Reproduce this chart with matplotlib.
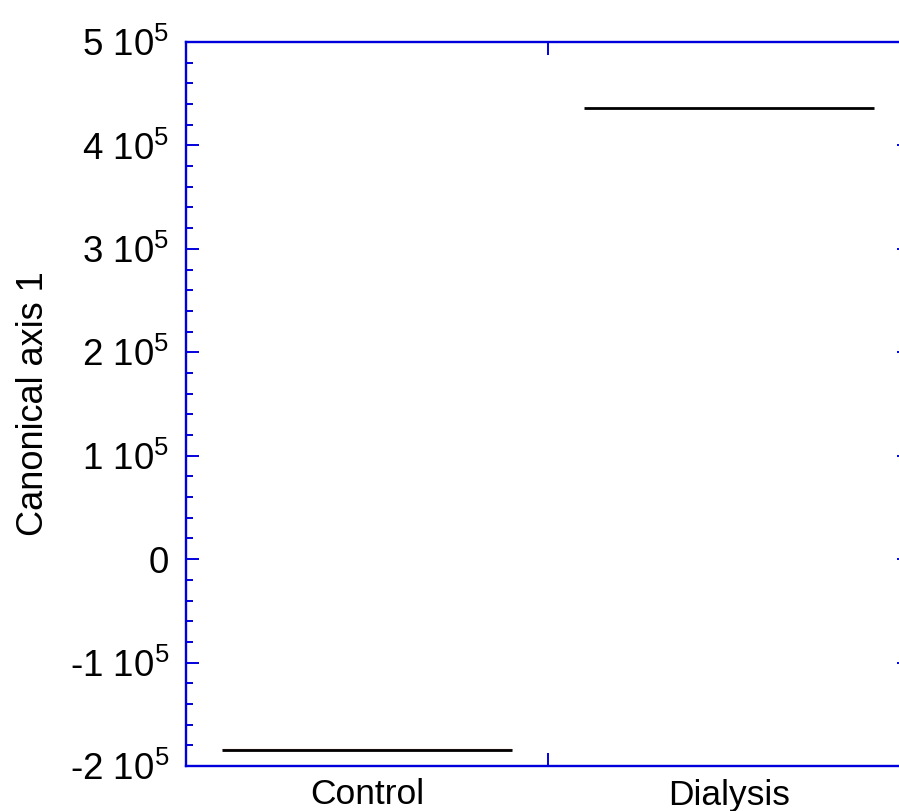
import matplotlib
matplotlib.use("Agg")
import matplotlib.pyplot as plt
from matplotlib.ticker import MultipleLocator, FixedLocator

plt.rcParams["font.family"] = ["Liberation Sans", "DejaVu Sans"]
plt.rcParams["mathtext.fontset"] = "custom"
plt.rcParams["mathtext.rm"] = "Liberation Sans"
plt.rcParams["mathtext.it"] = "Liberation Sans"

groups = ["Control", "Dialysis"]
group_means = [-1.831e5, 4.359e5]
group_medians = [-1.843e5, 4.359e5]
ytick_values = [-2e5, -1e5, 0, 1e5, 2e5, 3e5, 4e5, 5e5]
ytick_labels = [r"-2 10$^{5}$", r"-1 10$^{5}$", "0", r"1 10$^{5}$",
                r"2 10$^{5}$", r"3 10$^{5}$", r"4 10$^{5}$", r"5 10$^{5}$"]

axis_blue = "#0000dd"
W, H = 899, 811
fig = plt.figure(figsize=(W / 100, H / 100), dpi=100)
left, right, top, bottom = 186, 910, 42, 766
ax = fig.add_axes([left / W, 1 - bottom / H, (right - left) / W, (bottom - top) / H])

half = 0.4
for i, (m, md) in enumerate(zip(group_means, group_medians)):
    if i == 0:
        ax.hlines(m, i - half, i + half, color="#eba0a0", lw=0.9, zorder=2)
    ax.hlines(md, i - half, i + half, color="black", lw=2.0, zorder=3)

ax.set_xlim(-0.5, 1.5)
ax.set_ylim(-2e5, 5e5)

for s in ax.spines.values():
    s.set_color(axis_blue)
    s.set_linewidth(1.7)

ax.set_yticks(ytick_values)
ax.set_yticklabels(ytick_labels)
ax.yaxis.set_minor_locator(MultipleLocator(2e4))
ax.tick_params(axis="y", which="major", direction="in", length=9.4, width=1.4,
               color=axis_blue, labelsize=26.5, pad=12, right=True, left=True)
ax.tick_params(axis="y", which="minor", direction="in", length=5, width=1.4,
               color=axis_blue, left=True, right=False)

ax.set_xticks(range(len(groups)))
ax.set_xticklabels(groups)
ax.xaxis.set_minor_locator(FixedLocator([0.5]))
ax.tick_params(axis="x", which="major", length=0, labelsize=25.5, pad=9)
ax.tick_params(axis="x", which="minor", direction="in", length=9.4, width=1.4,
               color=axis_blue, top=True, bottom=True)

ax.set_ylabel("Canonical axis 1", fontsize=26, labelpad=14)

fig.savefig("out.png", dpi=100)
